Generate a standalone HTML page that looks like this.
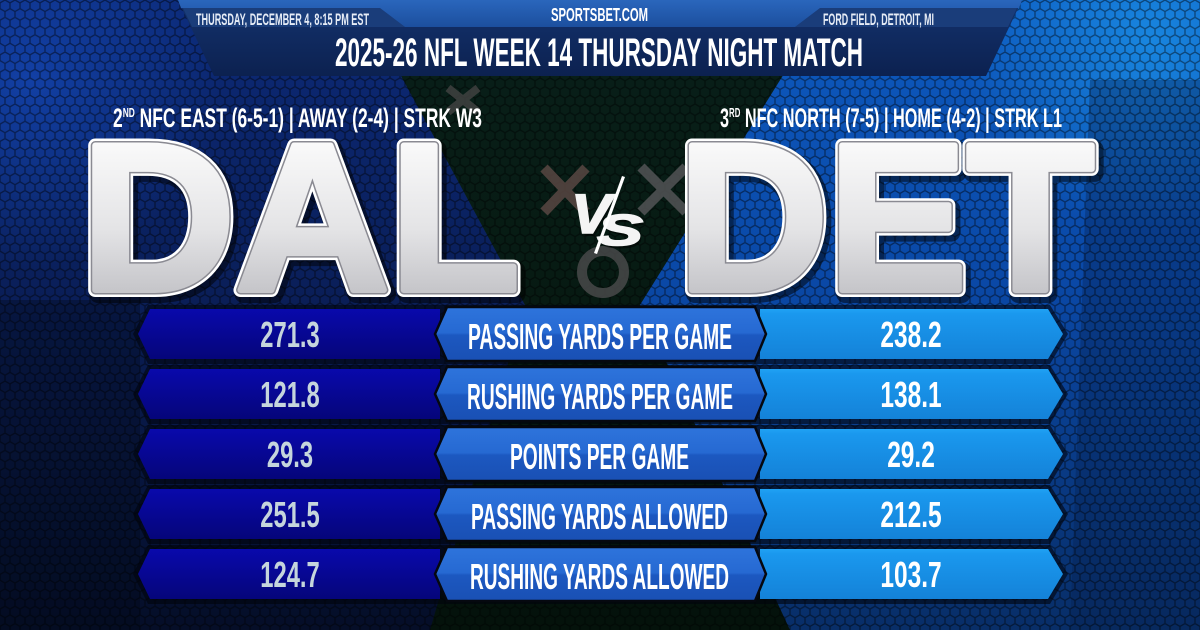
<!DOCTYPE html>
<html>
<head>
<meta charset="utf-8">
<style>
html,body{margin:0;padding:0;width:1200px;height:630px;overflow:hidden;background:#0a1f5a;}
svg{display:block;}
text{font-family:"Liberation Sans",Arial,sans-serif;font-weight:bold;}
</style>
</head>
<body>
<svg width="1200" height="630" viewBox="0 0 1200 630" xmlns="http://www.w3.org/2000/svg">
<defs>
  <pattern id="hex" width="10" height="17.32" patternUnits="userSpaceOnUse">
    <path d="M5,0 L10,2.887 L10,8.66 L5,11.547 L0,8.66 L0,2.887 Z M5,11.547 L5,17.32" fill="none" stroke="#000" stroke-width="1.3"/>
  </pattern>
  <linearGradient id="base" x1="0" y1="0" x2="0" y2="630" gradientUnits="userSpaceOnUse">
    <stop offset="0" stop-color="#0c2a78"/>
    <stop offset="0.45" stop-color="#0a1f5a"/>
    <stop offset="1" stop-color="#050e28"/>
  </linearGradient>
  <radialGradient id="tl" cx="30" cy="80" r="190" gradientUnits="userSpaceOnUse">
    <stop offset="0" stop-color="#1650c8" stop-opacity="0.6"/>
    <stop offset="1" stop-color="#1650c8" stop-opacity="0"/>
  </radialGradient>
  <radialGradient id="tr" cx="1150" cy="40" r="190" gradientUnits="userSpaceOnUse">
    <stop offset="0" stop-color="#1a8ee6" stop-opacity="0.85"/>
    <stop offset="1" stop-color="#1a8ee6" stop-opacity="0"/>
  </radialGradient>
  <linearGradient id="green" x1="0" y1="0" x2="0" y2="630" gradientUnits="userSpaceOnUse">
    <stop offset="0" stop-color="#08201a"/>
    <stop offset="0.5" stop-color="#071a12"/>
    <stop offset="1" stop-color="#04120b"/>
  </linearGradient>
  <linearGradient id="right" x1="0" y1="0" x2="0" y2="630" gradientUnits="userSpaceOnUse">
    <stop offset="0" stop-color="#0d5ac0"/>
    <stop offset="0.45" stop-color="#0a48a6"/>
    <stop offset="1" stop-color="#082e68"/>
  </linearGradient>
  <linearGradient id="letter" x1="0" y1="137" x2="0" y2="290" gradientUnits="userSpaceOnUse">
    <stop offset="0" stop-color="#fbfbfb"/>
    <stop offset="0.6" stop-color="#e4e4e6"/>
    <stop offset="1" stop-color="#c6c6ca"/>
  </linearGradient>
  <linearGradient id="lbar" x1="0" y1="0" x2="0" y2="1">
    <stop offset="0" stop-color="#0909ac"/>
    <stop offset="1" stop-color="#05057a"/>
  </linearGradient>
  <linearGradient id="rbar" x1="0" y1="0" x2="0" y2="1">
    <stop offset="0" stop-color="#20a2f4"/>
    <stop offset="0.1" stop-color="#1a98ee"/>
    <stop offset="1" stop-color="#1482d8"/>
  </linearGradient>
  <linearGradient id="cbox" x1="0" y1="0" x2="0" y2="1">
    <stop offset="0" stop-color="#2e74dc"/>
    <stop offset="0.48" stop-color="#2669d2"/>
    <stop offset="0.52" stop-color="#1c58c0"/>
    <stop offset="1" stop-color="#1a50b4"/>
  </linearGradient>
  <linearGradient id="bannerG" x1="0" y1="0" x2="0" y2="76" gradientUnits="userSpaceOnUse">
    <stop offset="0" stop-color="#14336e"/>
    <stop offset="1" stop-color="#0c2150"/>
  </linearGradient>
  <linearGradient id="topG" x1="0" y1="0" x2="0" y2="27" gradientUnits="userSpaceOnUse">
    <stop offset="0" stop-color="#2a66bc"/>
    <stop offset="1" stop-color="#1c4f9e"/>
  </linearGradient>
</defs>

<!-- background -->
<rect x="0" y="0" width="1200" height="630" fill="url(#base)"/>
<rect x="0" y="0" width="500" height="400" fill="url(#tl)"/>
<polygon points="360,0 830,0 640,305 790,630 430,630 525,305" fill="url(#green)"/>
<polygon points="830,0 1200,0 1200,630 790,630 640,305" fill="url(#right)"/>
<rect x="900" y="0" width="300" height="250" fill="url(#tr)"/>
<polygon points="1090,80 1200,80 1200,630 1070,630" fill="#06204e" opacity="0.35"/>
<polygon points="0,300 140,300 140,630 0,630" fill="#020818" opacity="0.35"/>
<rect x="0" y="0" width="1200" height="630" fill="url(#hex)" opacity="0.45"/>

<!-- tic tac toe marks -->
<g stroke-linecap="butt" fill="none" opacity="0.8">
  <path d="M544,168 L586,212 M586,168 L544,212" stroke="#5e4a46" stroke-width="10"/>
  <path d="M641,167 L686,212 M686,167 L641,212" stroke="#58585a" stroke-width="10"/>
  <circle cx="603" cy="272" r="21" stroke="#4c4c4e" stroke-width="10"/>
  <path d="M448,88 L478,112 M478,88 L448,112" stroke="#444" stroke-width="8"/>
</g>

<!-- VS -->
<g>
  <text x="573" y="236" font-size="56" font-style="italic" textLength="40" lengthAdjust="spacingAndGlyphs" fill="#000" opacity="0.5">V</text>
  <text x="571" y="233" font-size="56" font-style="italic" textLength="40" lengthAdjust="spacingAndGlyphs" fill="#f4f4f4" stroke="#f4f4f4" stroke-width="1.5">V</text>
  <text x="599" y="248" font-size="44" font-style="italic" textLength="46" lengthAdjust="spacingAndGlyphs" fill="#000" opacity="0.5">S</text>
  <text x="597" y="245" font-size="44" font-style="italic" textLength="46" lengthAdjust="spacingAndGlyphs" fill="#f4f4f4" stroke="#f4f4f4" stroke-width="1.5">S</text>
  <polygon points="622,176 625,177 597,254 594,253" fill="#ffffff"/>
</g>

<!-- Big letters -->
<g font-size="210" stroke-linejoin="round">
  <text x="84" y="294" textLength="439" lengthAdjust="spacingAndGlyphs" fill="#000" fill-opacity="0.5" stroke="#000" stroke-opacity="0.5" stroke-width="18">DAL</text>
  <text x="81" y="290" textLength="439" lengthAdjust="spacingAndGlyphs" fill="#fff" stroke="#ffffff" stroke-width="14">DAL</text>
  <text x="81" y="290" textLength="439" lengthAdjust="spacingAndGlyphs" fill="#8a8a92" stroke="#8a8a92" stroke-width="9">DAL</text>
  <text x="81" y="290" textLength="439" lengthAdjust="spacingAndGlyphs" fill="url(#letter)" stroke="url(#letter)" stroke-width="6">DAL</text>

  <text x="681" y="294" textLength="416" lengthAdjust="spacingAndGlyphs" fill="#000" fill-opacity="0.5" stroke="#000" stroke-opacity="0.5" stroke-width="18">DET</text>
  <text x="678" y="290" textLength="416" lengthAdjust="spacingAndGlyphs" fill="#fff" stroke="#ffffff" stroke-width="14">DET</text>
  <text x="678" y="290" textLength="416" lengthAdjust="spacingAndGlyphs" fill="#8a8a92" stroke="#8a8a92" stroke-width="9">DET</text>
  <text x="678" y="290" textLength="416" lengthAdjust="spacingAndGlyphs" fill="url(#letter)" stroke="url(#letter)" stroke-width="6">DET</text>
</g>

<!-- sub headers -->
<text x="113" y="127" font-size="27" fill="#ffffff" textLength="369" lengthAdjust="spacingAndGlyphs">2<tspan font-size="13" dy="-10">ND</tspan><tspan dy="10"> NFC EAST (6-5-1)  |  AWAY (2-4)  |  STRK W3</tspan></text>
<text x="720" y="127" font-size="27" fill="#ffffff" textLength="342" lengthAdjust="spacingAndGlyphs">3<tspan font-size="13" dy="-10">RD</tspan><tspan dy="10"> NFC NORTH (7-5)  |  HOME (4-2)  |  STRK L1</tspan></text>

<!-- banner -->
<polygon points="178,0 1022,0 986,76 214,76" fill="url(#bannerG)"/>
<polygon points="183,8 380,8 405,27 192,27" fill="#1a3d7a"/>
<polygon points="820,8 1017,8 1008,27 795,27" fill="#1a3d7a"/>
<polygon points="178,0 1022,0 1019,8 820,8 795,27 405,27 380,8 181,8" fill="url(#topG)"/>
<text x="551" y="21" font-size="18" fill="#ffffff" textLength="97" lengthAdjust="spacingAndGlyphs">SPORTSBET.COM</text>
<text x="196" y="25" font-size="16.5" fill="#e6ecf6" textLength="173" lengthAdjust="spacingAndGlyphs">THURSDAY, DECEMBER 4, 8:15 PM EST</text>
<text x="823" y="25" font-size="16.5" fill="#e6ecf6" textLength="111" lengthAdjust="spacingAndGlyphs">FORD FIELD, DETROIT, MI</text>
<text x="335" y="66" font-size="40" fill="#ffffff" textLength="528" lengthAdjust="spacingAndGlyphs">2025-26 NFL WEEK 14 THURSDAY NIGHT MATCH</text>

<!-- row shadows -->
<g fill="#01040c" opacity="0.6">
  <polygon points="148,305 1050,305 1068,334 1050,364 148,364 133,334"/>
  <polygon points="148,365 1050,365 1068,394 1050,424 148,424 133,394"/>
  <polygon points="148,425 1050,425 1068,454 1050,484 148,484 133,454"/>
  <polygon points="148,485 1050,485 1068,514 1050,544 148,544 133,514"/>
  <polygon points="148,545 1050,545 1068,574 1050,604 148,604 133,574"/>
</g>

<!-- rows -->
<g>
  <!-- row 1 -->
  <polygon points="150,309 440,309 440,359 150,359 138,334" fill="url(#lbar)"/>
  <polygon points="760,309 1048,309 1063,334 1048,359 760,359" fill="url(#rbar)"/>
  <polygon points="447,307 755,307 766,334 755,361 447,361 435,334" fill="url(#cbox)" stroke="#05080f" stroke-width="2.5"/>
  <text transform="translate(290,347) scale(0.66,1)" text-anchor="middle" font-size="36" fill="#c5d5dc">271.3</text>
  <text transform="translate(911,347) scale(0.68,1)" text-anchor="middle" font-size="36" fill="#ffffff">238.2</text>
  <text x="468" y="349" font-size="36" fill="#ffffff" textLength="264" lengthAdjust="spacingAndGlyphs">PASSING YARDS PER GAME</text>

  <!-- row 2 -->
  <polygon points="150,369 440,369 440,419 150,419 138,394" fill="url(#lbar)"/>
  <polygon points="760,369 1048,369 1063,394 1048,419 760,419" fill="url(#rbar)"/>
  <polygon points="447,367 755,367 766,394 755,421 447,421 435,394" fill="url(#cbox)" stroke="#05080f" stroke-width="2.5"/>
  <text transform="translate(290,407) scale(0.66,1)" text-anchor="middle" font-size="36" fill="#c5d5dc">121.8</text>
  <text transform="translate(911,407) scale(0.68,1)" text-anchor="middle" font-size="36" fill="#ffffff">138.1</text>
  <text x="467" y="409" font-size="36" fill="#ffffff" textLength="266" lengthAdjust="spacingAndGlyphs">RUSHING YARDS PER GAME</text>

  <!-- row 3 -->
  <polygon points="150,429 440,429 440,479 150,479 138,454" fill="url(#lbar)"/>
  <polygon points="760,429 1048,429 1063,454 1048,479 760,479" fill="url(#rbar)"/>
  <polygon points="447,427 755,427 766,454 755,481 447,481 435,454" fill="url(#cbox)" stroke="#05080f" stroke-width="2.5"/>
  <text transform="translate(290,467) scale(0.66,1)" text-anchor="middle" font-size="36" fill="#c5d5dc">29.3</text>
  <text transform="translate(911,467) scale(0.68,1)" text-anchor="middle" font-size="36" fill="#ffffff">29.2</text>
  <text x="510" y="469" font-size="36" fill="#ffffff" textLength="179" lengthAdjust="spacingAndGlyphs">POINTS PER GAME</text>

  <!-- row 4 -->
  <polygon points="150,489 440,489 440,539 150,539 138,514" fill="url(#lbar)"/>
  <polygon points="760,489 1048,489 1063,514 1048,539 760,539" fill="url(#rbar)"/>
  <polygon points="447,487 755,487 766,514 755,541 447,541 435,514" fill="url(#cbox)" stroke="#05080f" stroke-width="2.5"/>
  <text transform="translate(290,527) scale(0.66,1)" text-anchor="middle" font-size="36" fill="#c5d5dc">251.5</text>
  <text transform="translate(911,527) scale(0.68,1)" text-anchor="middle" font-size="36" fill="#ffffff">212.5</text>
  <text x="471" y="529" font-size="36" fill="#ffffff" textLength="257" lengthAdjust="spacingAndGlyphs">PASSING YARDS ALLOWED</text>

  <!-- row 5 -->
  <polygon points="150,549 440,549 440,599 150,599 138,574" fill="url(#lbar)"/>
  <polygon points="760,549 1048,549 1063,574 1048,599 760,599" fill="url(#rbar)"/>
  <polygon points="447,547 755,547 766,574 755,601 447,601 435,574" fill="url(#cbox)" stroke="#05080f" stroke-width="2.5"/>
  <text transform="translate(290,587) scale(0.66,1)" text-anchor="middle" font-size="36" fill="#c5d5dc">124.7</text>
  <text transform="translate(911,587) scale(0.68,1)" text-anchor="middle" font-size="36" fill="#ffffff">103.7</text>
  <text x="470" y="589" font-size="36" fill="#ffffff" textLength="259" lengthAdjust="spacingAndGlyphs">RUSHING YARDS ALLOWED</text>
</g>
</svg>
</body>
</html>
